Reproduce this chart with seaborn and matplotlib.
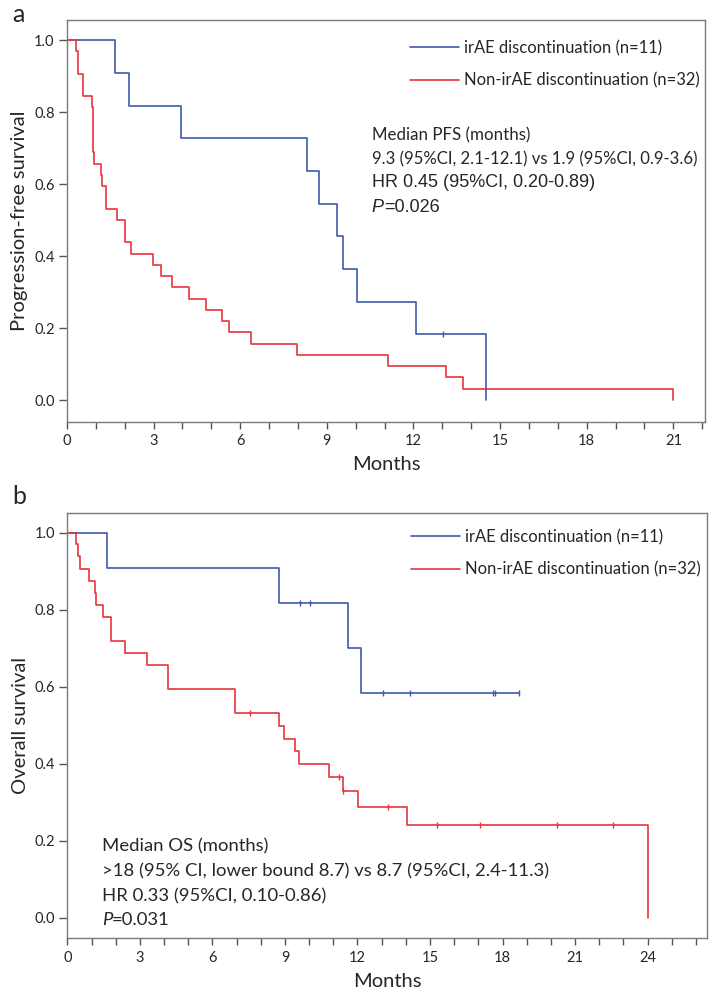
import numpy as np
import pandas as pd
import matplotlib
matplotlib.use('Agg')
import matplotlib.pyplot as plt
from matplotlib.ticker import MultipleLocator
from matplotlib.lines import Line2D
import seaborn as sns

##################################################################
# KM curves (step times, survival after step)
##################################################################
# a: progression-free survival
pfs_ir_t = [0, 1.65, 2.14, 3.94, 8.31, 8.73, 9.34, 9.57, 10.06, 12.09, 14.51]
pfs_ir_s = [1, 0.909, 0.818, 0.727, 0.636, 0.545, 0.455, 0.364, 0.273, 0.182, 0]
pfs_ir_cens_t = [13.01]
pfs_ir_cens_s = [0.182]

pfs_non_t = [0, 0.32, 0.38, 0.55, 0.85, 0.90, 0.92, 1.17, 1.22, 1.34, 1.74, 2.0, 2.2,
             2.97, 3.27, 3.64, 4.22, 4.82, 5.36, 5.62, 6.38, 7.95, 11.12, 13.11, 13.71, 20.99]
pfs_non_s = [1, 0.969, 0.906, 0.844, 0.813, 0.688, 0.656, 0.625, 0.594, 0.531, 0.5, 0.438, 0.406,
             0.375, 0.344, 0.313, 0.281, 0.25, 0.219, 0.188, 0.156, 0.125, 0.094, 0.063, 0.031, 0]

# b: overall survival
os_ir_t = [0, 1.63, 8.76, 11.61, 12.14, 18.70]
os_ir_s = [1, 0.909, 0.818, 0.701, 0.584, 0.584]
os_ir_cens_t = [9.63, 10.04, 13.05, 14.18, 17.6, 17.7, 18.7]
os_ir_cens_s = [0.818, 0.818, 0.584, 0.584, 0.584, 0.584, 0.584]

os_non_t = [0, 0.36, 0.44, 0.52, 0.88, 1.13, 1.2, 1.49, 1.82, 2.37, 3.31, 4.18, 6.93,
            8.76, 8.96, 9.43, 9.57, 10.81, 11.39, 12.04, 14.04, 24.0]
os_non_s = [1, 0.969, 0.938, 0.906, 0.875, 0.844, 0.813, 0.781, 0.719, 0.688, 0.656, 0.594, 0.531,
            0.498, 0.465, 0.432, 0.398, 0.365, 0.329, 0.288, 0.240, 0]
os_non_cens_t = [7.56, 11.23, 11.39, 13.26, 15.27, 17.05, 20.25, 22.55]
os_non_cens_s = [0.531, 0.365, 0.329, 0.288, 0.240, 0.240, 0.240, 0.240]

labels = ['irAE discontinuation (n=11)', 'Non-irAE discontinuation (n=32)']
colors = ['#3C5BAA', '#E8333B']
##################################################################
sns.set_theme(style='white')
plt.rcParams['font.family'] = ['Lato', 'DejaVu Sans']
plt.rcParams['axes.edgecolor'] = '#7a7a7a'
plt.rcParams['axes.linewidth'] = 1.0

fig = plt.figure(figsize=(7.09, 9.92), dpi=100)
ax1 = fig.add_axes([0.0945, 0.575, 0.900, 0.405])
ax2 = fig.add_axes([0.095, 0.054, 0.902, 0.429])


def km(ax, t, s, ct, cs, color):
    df = pd.DataFrame({'t': t, 's': s})
    sns.lineplot(data=df, x='t', y='s', ax=ax, color=color, lw=1.2,
                 drawstyle='steps-post', sort=False, estimator=None)
    if len(ct):
        ax.plot(ct, cs, linestyle='none', marker='|', ms=5, mew=1.0, color=color)


km(ax1, pfs_ir_t, pfs_ir_s, pfs_ir_cens_t, pfs_ir_cens_s, colors[0])
km(ax1, pfs_non_t, pfs_non_s, [], [], colors[1])
km(ax2, os_ir_t, os_ir_s, os_ir_cens_t, os_ir_cens_s, colors[0])
km(ax2, os_non_t, os_non_s, os_non_cens_t, os_non_cens_s, colors[1])

ax1.set_xlim(0, 22.1)
ax1.set_ylim(-0.06, 1.056)
ax2.set_xlim(0, 26.45)
ax2.set_ylim(-0.054, 1.051)

fz = 14.5
for ax, ylab in [(ax1, 'Progression-free survival'), (ax2, 'Overall survival')]:
    ax.xaxis.set_major_locator(MultipleLocator(3))
    ax.xaxis.set_minor_locator(MultipleLocator(1))
    ax.set_yticks([0, 0.2, 0.4, 0.6, 0.8, 1.0])
    ax.set_yticklabels(['0.0', '0.2', '0.4', '0.6', '0.8', '1.0'])
    ax.tick_params(axis='x', which='both', bottom=True, direction='out', length=5,
                   width=1, color='#555555', labelsize=10.5, pad=4)
    ax.tick_params(axis='y', which='both', left=True, direction='out', length=6,
                   width=1, color='#555555', labelsize=10.5, pad=3)
    ax.set_xlabel('Months', fontsize=fz, labelpad=6)
    ax.set_ylabel(ylab, fontsize=fz, labelpad=4)
    for sp in ax.spines.values():
        sp.set_visible(True)
    handles = [Line2D([0], [0], color=c, lw=1.2) for c in colors]
    ax.legend(handles, labels, loc='upper left', frameon=False, fontsize=11.9,
              handlelength=3.0, handletextpad=0.3, labelspacing=1.0,
              borderpad=0, borderaxespad=0,
              bbox_to_anchor=(0.537, 0.95 if ax is ax1 else 0.962))

# panel a statistics
ax1.text(10.56, 0.736, 'Median PFS (months)', fontsize=12.2, va='center')
ax1.text(10.56, 0.669, '9.3 (95%CI, 2.1-12.1) vs 1.9 (95%CI, 0.9-3.6)', fontsize=12.1, va='center')
ax1.text(10.56, 0.603, 'HR 0.45 (95%CI, 0.20-0.89)', fontsize=13, va='center',
         family='Liberation Sans')
tp = ax1.text(10.56, 0.536, 'P', fontsize=13, va='center', style='italic', family='Liberation Sans')
ax1.annotate('=0.026', xy=(1, 0), xycoords=tp, va='bottom', ha='left', fontsize=13,
             family='Liberation Sans')

# panel b statistics
ax2.text(1.42, 0.184, 'Median OS (months)', fontsize=13.3, va='center')
ax2.text(1.42, 0.119, '>18 (95% CI, lower bound 8.7) vs 8.7 (95%CI, 2.4-11.3)', fontsize=13.3, va='center')
ax2.text(1.42, 0.056, 'HR 0.33 (95%CI, 0.10-0.86)', fontsize=13.3, va='center')
tp2 = ax2.text(1.42, -0.006, 'P', fontsize=13.3, va='center', style='italic')
ax2.annotate('=0.031', xy=(1, 0), xycoords=tp2, va='bottom', ha='left', fontsize=13.3)

fig.text(12 / 709, 1 - 15 / 992, 'a', fontsize=18, va='center', ha='left')
fig.text(12 / 709, 1 - 497 / 992, 'b', fontsize=18, va='center', ha='left')

plt.savefig('out.png', dpi=100)
